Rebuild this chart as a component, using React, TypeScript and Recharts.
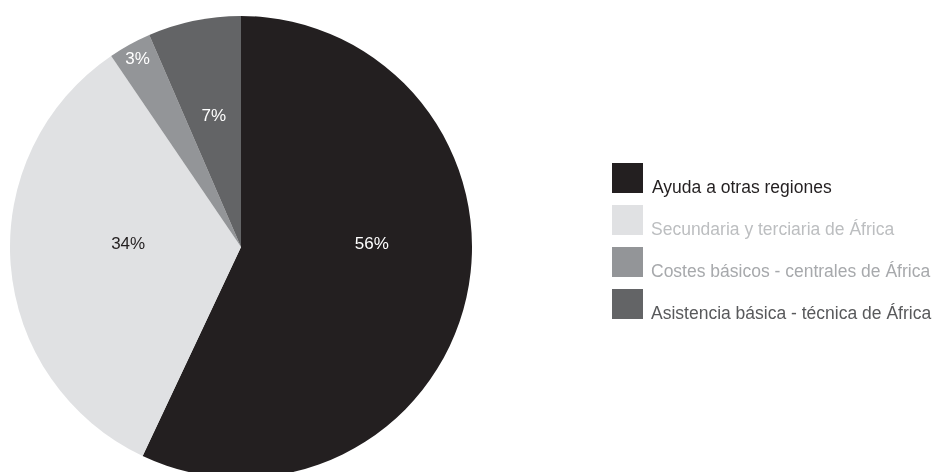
import React from 'react';
import { PieChart, Pie, Cell, Legend } from 'recharts';

const categories = [
  'Ayuda a otras regiones',
  'Secundaria y terciaria de África',
  'Costes básicos - centrales de África',
  'Asistencia básica - técnica de África',
];
// slice sizes as drawn in the picture; the printed labels are the rounded figures
const shares = [57, 33.5, 3, 6.5];
const percentLabels = ['56%', '34%', '3%', '7%'];
const sliceColors = ['#231f20', '#e0e1e3', '#939598', '#636466'];
const textColors = ['#231f20', '#bcbec0', '#a7a9ac', '#58595b'];
const labelColors = ['#ffffff', '#231f20', '#ffffff', '#ffffff'];
const labelRadius = [0.58, 0.49, 0.93, 0.58];

const data = categories.map((name, i) => ({ name, value: shares[i] }));

const RADIAN = Math.PI / 180;

const renderLabel = ({ cx, cy, midAngle, outerRadius, value, index }) => {
  const r = outerRadius * labelRadius[index];
  const x = cx + r * Math.cos(-midAngle * RADIAN);
  // big slices keep their label on the horizontal line through the centre
  const y = value > 20 ? cy - 4 : cy + r * Math.sin(-midAngle * RADIAN);
  return (
    <text x={x} y={y} fill={labelColors[index]} textAnchor="middle" dominantBaseline="central"
      fontFamily="'Liberation Sans', Arial, sans-serif" fontSize={17}>
      {percentLabels[index]}
    </text>
  );
};

const renderLegend = () => (
  <div style={{ fontFamily: "'Liberation Sans', Arial, sans-serif" }}>
    {categories.map((name, i) => (
      <div key={name} style={{ display: 'flex', alignItems: 'flex-end', height: 30, marginBottom: 12 }}>
        <div style={{ width: 31, height: 30, background: sliceColors[i], flex: 'none' }} />
        <span style={{ marginLeft: i === 0 ? 9 : 8, color: textColors[i], fontSize: 17.5, lineHeight: '20px', marginBottom: -4, whiteSpace: 'nowrap' }}>
          {name}
        </span>
      </div>
    ))}
  </div>
);

export default function App() {
  return (
    <>
      <style>{'html, body { margin: 0; padding: 0; overflow: hidden; }'}</style>
      <div style={{ position: 'fixed', left: 0, top: 0, width: 933, height: 472 }}>
        <PieChart width={933} height={472} margin={{ top: 0, right: 0, bottom: 0, left: 0 }}>
          <Pie
            data={data}
            dataKey="value"
            nameKey="name"
            cx={241}
            cy={247}
            outerRadius={231}
            startAngle={90}
            endAngle={-270}
            stroke="none"
            labelLine={false}
            label={renderLabel}
            isAnimationActive={false}
          >
            {data.map((d, i) => (
              <Cell key={d.name} fill={sliceColors[i]} />
            ))}
          </Pie>
          <Legend
            layout="vertical"
            content={renderLegend}
            wrapperStyle={{ position: 'absolute', left: 612, top: 163, width: 321 }}
          />
        </PieChart>
      </div>
    </>
  );
}
